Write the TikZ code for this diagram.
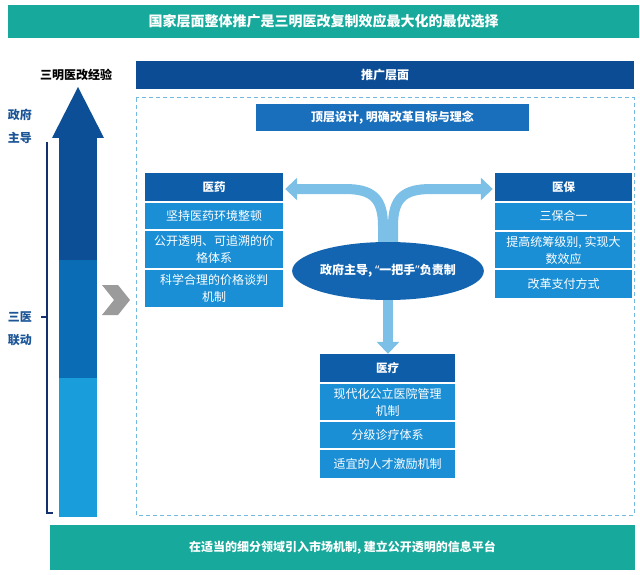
\documentclass[tikz,border=0pt]{standalone}
\usepackage{fontspec}
\setmainfont{Noto Sans CJK SC}
\newfontfamily\lat{Noto Sans}
\usetikzlibrary{arrows.meta,calc,shapes.geometric}
\definecolor{tealbar}{HTML}{17A99B}
\definecolor{navybar}{HTML}{0B4C94}
\definecolor{topbox}{HTML}{1A6FBD}
\definecolor{hdrblue}{HTML}{0D5DA9}
\definecolor{itemblue}{HTML}{1A8FD6}
\definecolor{ellblue}{HTML}{1365B2}
\definecolor{armblue}{HTML}{7CC0E8}
\definecolor{bigdark}{HTML}{0D4F96}
\definecolor{bigmid}{HTML}{0A6CB5}
\definecolor{biglight}{HTML}{1A9DDB}
\definecolor{labelblue}{HTML}{1B5597}
\definecolor{bracketnavy}{HTML}{14306E}
\definecolor{dashblue}{HTML}{74B9DE}
\definecolor{chevgrey}{HTML}{9B9B9B}
\begin{document}
\begin{tikzpicture}[x=1pt,y=-1pt,
  bar/.style={fill=tealbar, text=white, inner sep=0, font=\bfseries\fontsize{14}{16}\selectfont},
  hdr/.style={fill=hdrblue, text=white, inner sep=0, align=center, font=\bfseries\fontsize{11.5}{13}\selectfont},
  item/.style={fill=itemblue, text=white, inner sep=0, align=center, font=\fontsize{12}{17}\selectfont},
  band/.style={draw=armblue, line width=10pt, -{Triangle[width=22pt,length=12pt]}},
  sidelabel/.style={text=labelblue, align=center, font=\bfseries\fontsize{12}{23}\selectfont, inner sep=0}
]
\useasboundingbox (0,0) rectangle (640,575);
\fill[white] (0,0) rectangle (640,575);

% top and bottom bars
\node[bar, minimum width=631pt, minimum height=33pt] (title) at (323.5,21.5) {国家层面整体推广是三明医改复制效应最大化的最优选择};
\node[bar, font=\bfseries\fontsize{12}{14}\selectfont, minimum width=585pt, minimum height=45pt] (bottom) at (342.5,547.5) {在适当的细分领域引入市场机制,\ 建立公开透明的信息平台};

% left big arrow
\fill[bigdark] (59,137) rectangle (97,260);
\fill[bigmid] (59,260) rectangle (97,378);
\fill[biglight] (59,378) rectangle (97,517);
\fill[bigdark] (52,138) -- (78,87) -- (104,138) -- cycle;
\node[font=\bfseries\fontsize{12}{14}\selectfont, inner sep=0] (exp) at (76,75) {三明医改经验};

% bracket
\draw[bracketnavy, line width=1.6pt] (47,142) -- (47,513) -- (53,513);
\draw[bracketnavy, line width=1.6pt] (47,317) -- (41,317);
\node[sidelabel] (gov) at (20,126) {政府\\主导};
\node[sidelabel] (sanyi) at (20,328.5) {三医\\联动};

% chevron
\fill[chevgrey] (102,285) -- (118,285) -- (130,300) -- (118,315) -- (102,315) -- (114,300) -- cycle;

% right panel
\node[fill=navybar, text=white, inner sep=0, minimum width=498pt, minimum height=28pt, font=\bfseries\fontsize{12}{14}\selectfont] (promo) at (385,75) {推广层面};
\draw[dashblue, line width=1pt, dash pattern=on 4pt off 3pt] (136,98) rectangle (634,515);
\node[fill=topbox, text=white, inner sep=0, minimum width=273pt, minimum height=27pt, font=\bfseries\fontsize{12}{14}\selectfont] (design) at (392.5,117.5) {顶层设计,\ 明确改革目标与理念};

% 医药 column
\node[hdr, minimum width=138pt, minimum height=28pt] (yy) at (214,187) {医药};
\node[item, minimum width=138pt, minimum height=26pt] (yy1) at (214,216) {坚持医药环境整顿};
\node[item, minimum width=138pt, minimum height=37pt] (yy2) at (214,249.5) {公开透明、可追溯的价\\格体系};
\node[item, minimum width=138pt, minimum height=37pt] (yy3) at (214,288.5) {科学合理的价格谈判\\机制};

% 医保 column
\node[hdr, minimum width=137pt, minimum height=28pt] (yb) at (563.5,187) {医保};
\node[item, minimum width=137pt, minimum height=27pt] (yb1) at (563.5,216) {三保合一};
\node[item, minimum width=137pt, minimum height=36pt] (yb2) at (563.5,250) {提高统筹级别,\ 实现大\\数效应};
\node[item, minimum width=137pt, minimum height=28pt] (yb3) at (563.5,284) {改革支付方式};

% 医疗 column
\node[hdr, minimum width=135pt, minimum height=28pt] (yl) at (387.5,368) {医疗};
\node[item, minimum width=135pt, minimum height=36pt] (yl1) at (387.5,402) {现代化公立医院管理\\机制};
\node[item, minimum width=135pt, minimum height=26pt] (yl2) at (387.5,435) {分级诊疗体系};
\node[item, minimum width=135pt, minimum height=28pt] (yl3) at (387.5,464) {适宜的人才激励机制};

% arrows from the central ellipse
\coordinate (ec) at (388,271);
\draw[band, shorten >=2pt] ($(ec)+(-5,-25)$) -- (383,226) .. controls (383,198) and (372,189) .. (345,189) -- (yy.east |- 0,189);
\draw[band, shorten >=2pt] ($(ec)+(5,-25)$) -- (393,226) .. controls (393,198) and (404,189) .. (431,189) -- (yb.west |- 0,189);
\draw[band] (ec) -- (yl.north -| ec);
\node[ellipse, fill=ellblue, text=white, minimum width=158pt, minimum height=58pt, inner sep=0, font=\bfseries\fontsize{12}{14}\selectfont] (govell) at (ec) {政府主导,\ {\lat “}一把手{\lat ”}负责制};
\end{tikzpicture}
\end{document}
